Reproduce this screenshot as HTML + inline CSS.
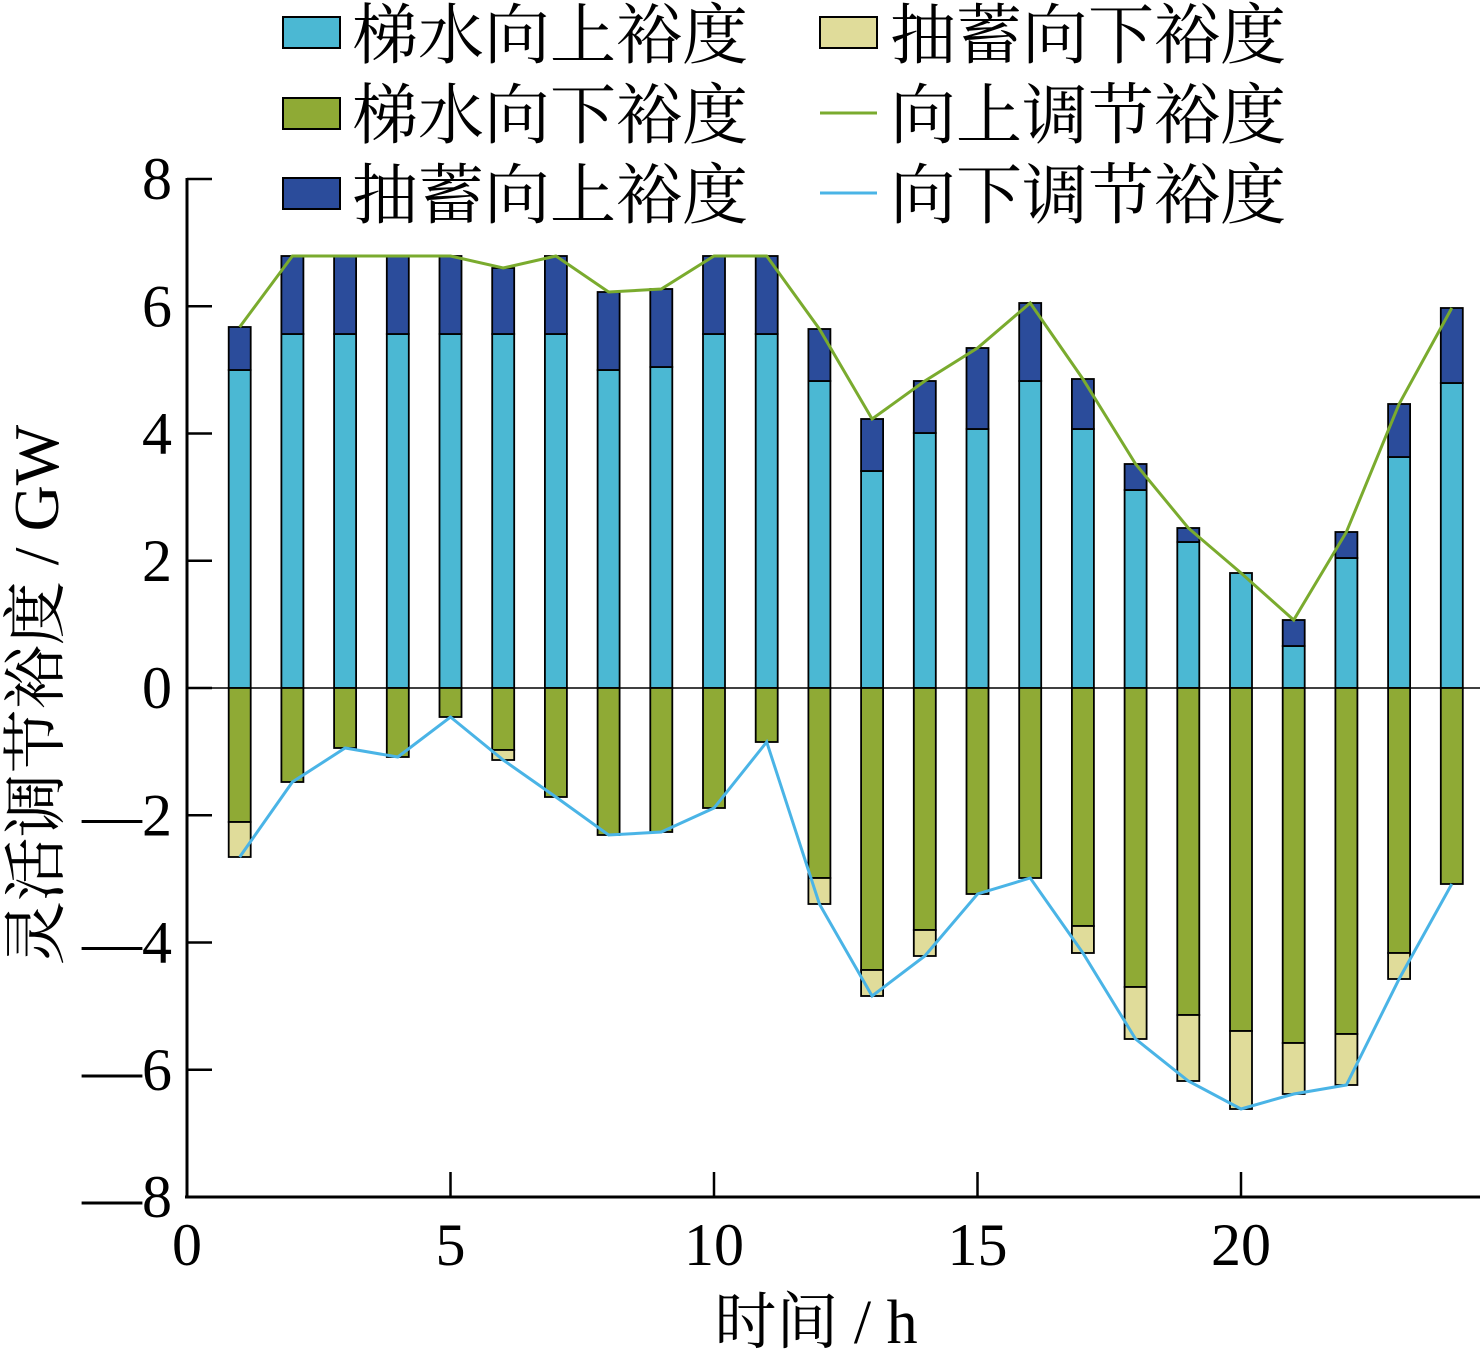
<!DOCTYPE html>
<html><head><meta charset="utf-8"><style>
html,body{margin:0;padding:0;background:#fff;}
svg{display:block;}
text{font-family:"Liberation Serif","Noto Serif CJK SC",serif;fill:#000;}
</style></head><body>
<svg id="s" width="1484" height="1364" viewBox="0 0 1484 1364" xmlns="http://www.w3.org/2000/svg">
<line x1="187" y1="688" x2="1480" y2="688" stroke="#000" stroke-width="1.5"/>
<g id="bars"></g>
<polyline id="up" fill="none" stroke="#7aab2e" stroke-width="3"/>
<polyline id="dn" fill="none" stroke="#4ab4e6" stroke-width="3"/>
<g stroke="#000" stroke-width="3">
<line x1="187" y1="178" x2="187" y2="1197"/>
<line x1="185" y1="1197" x2="1480" y2="1197"/>
</g>
<g id="ticks" stroke="#000" stroke-width="2.5"></g>
<g font-size="60" text-anchor="end" id="yl"></g>
<g font-size="60" text-anchor="middle" id="xl"></g>
<text x="816" y="1343" font-size="62" text-anchor="middle">时间 / h</text>
<text transform="translate(58,695) rotate(-90)" font-size="64" text-anchor="middle">灵活调节裕度 / GW</text>
<g font-size="66">
<rect x="283" y="17" width="57" height="31" fill="#4bb8d3" stroke="#000" stroke-width="2"/>
<text x="352" y="58">梯水向上裕度</text>
<rect x="283" y="98" width="57" height="31" fill="#8faa35" stroke="#000" stroke-width="2"/>
<text x="352" y="138">梯水向下裕度</text>
<rect x="283" y="178" width="57" height="31" fill="#2b4c9b" stroke="#000" stroke-width="2"/>
<text x="352" y="218">抽蓄向上裕度</text>
<rect x="820" y="17" width="57" height="31" fill="#e0dc9a" stroke="#000" stroke-width="2"/>
<text x="890" y="58">抽蓄向下裕度</text>
<line x1="820" y1="113" x2="877" y2="113" stroke="#7aab2e" stroke-width="3"/>
<text x="890" y="138">向上调节裕度</text>
<line x1="820" y1="193" x2="877" y2="193" stroke="#4ab4e6" stroke-width="3"/>
<text x="890" y="218">向下调节裕度</text>
</g>
</svg>
<script>
var d=[[370,327,822,857],[334,256,782,782],[334,256,748,748],[334,256,757,757],[334,256,717,717],[334,268,750,760],[334,256,797,797],[370,292,835,835],[367,289,832,832],[334,256,808,808],[334,256,742,742],[381,329,878,904],[471,419,970,996],[433,381,930,956],[429,348,894,894],[381,303,878,878],[429,379,926,953],[490,464,987,1039],[542,528,1015,1081],[573,573,1031,1109],[646,620,1043,1094],[558,532,1034,1085],[457,404,953,979],[383,308,884,884]];
var ns="http://www.w3.org/2000/svg";
function el(p,t,a){var e=document.createElementNS(ns,t);for(var k in a)e.setAttribute(k,a[k]);p.appendChild(e);return e;}
var b=document.getElementById('bars'),up=[],dn=[];
d.forEach(function(r,i){var x=187+(i+1)*52.7;
function R(y1,y2,c){if(Math.abs(y2-y1)<0.5)return;el(b,'rect',{x:x-11,y:Math.min(y1,y2),width:22,height:Math.abs(y2-y1),fill:c,stroke:'#000','stroke-width':1.8});}
R(688,r[0],'#4bb8d3');R(r[0],r[1],'#2b4c9b');R(688,r[2],'#8faa35');R(r[2],r[3],'#e0dc9a');
up.push(x+','+r[1]);dn.push(x+','+r[3]);});
document.getElementById('up').setAttribute('points',up.join(' '));
document.getElementById('dn').setAttribute('points',dn.join(' '));
var t=document.getElementById('ticks'),yl=document.getElementById('yl'),xl=document.getElementById('xl');
for(var v=8;v>=-8;v-=2){var y=688-v*63.625;el(t,'line',{x1:187,y1:y,x2:212,y2:y});
var tx=el(yl,'text',{x:172,y:y+20});tx.textContent=(v<0?'\u2014':'')+Math.abs(v);}
for(var h=0;h<=20;h+=5){var x=187+h*52.7;el(t,'line',{x1:x,y1:1197,x2:x,y2:1172});
var tx=el(xl,'text',{x:x,y:1265});tx.textContent=h;}
</script>
</body></html>
